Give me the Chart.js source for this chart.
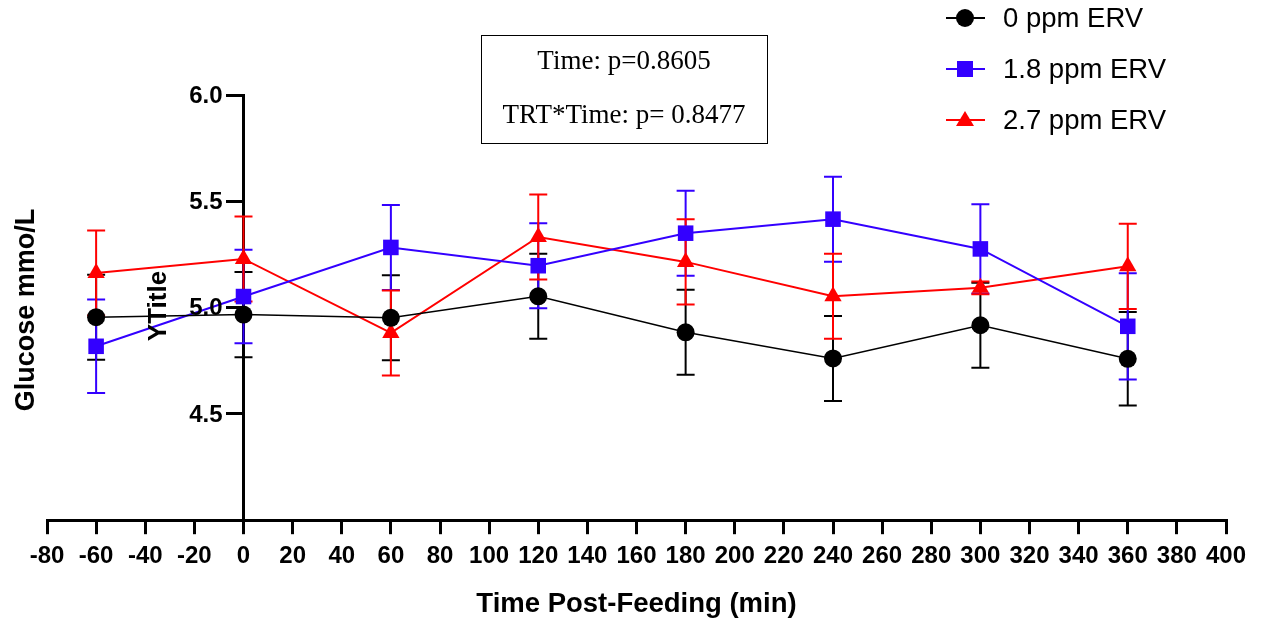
<!DOCTYPE html>
<html>
<head>
<meta charset="utf-8">
<script src="https://cdn.jsdelivr.net/npm/chart.js@4"></script>
<style>
  html, body { margin: 0; padding: 0; background: #fff; }
  #wrap { width: 1268px; height: 625px; position: relative; }
</style>
</head>
<body>
<div id="wrap"><canvas id="glucose"></canvas></div>
<script>
// sampling times (min relative to feeding)
const times = [-60, 0, 60, 120, 180, 240, 300, 360];

// glucose means and error (mmol/L)
const erv0 = [4.955, 4.967, 4.952, 5.053, 4.884, 4.761, 4.917, 4.759];
const erv0Err = [0.20, 0.20, 0.20, 0.20, 0.20, 0.20, 0.20, 0.22];
const erv18 = [4.818, 5.052, 5.283, 5.197, 5.350, 5.416, 5.276, 4.912];
const erv18Err = [0.22, 0.22, 0.20, 0.20, 0.20, 0.20, 0.21, 0.25];
const erv27 = [5.163, 5.229, 4.881, 5.332, 5.215, 5.053, 5.093, 5.194];
const erv27Err = [0.20, 0.20, 0.20, 0.20, 0.20, 0.20, 0.03, 0.20];

const seriesNames = ["0 ppm ERV", "1.8 ppm ERV", "2.7 ppm ERV"];
const yTicks = [4.5, 5.0, 5.5, 6.0];
const statLines = ["Time: p=0.8605", "TRT*Time: p= 0.8477"];

const BLACK = "#000000";
const BLUE = "#3300ff";
const RED = "#ff0000";

function pts(ys) {
  return times.map((t, i) => ({ x: t, y: ys[i] }));
}

const sans = "'Liberation Sans', Arial, sans-serif";
const serif = "'Liberation Serif', 'Times New Roman', serif";

function marker(ctx, style, x, y, color) {
  ctx.save();
  ctx.fillStyle = color;
  ctx.beginPath();
  if (style === "circle") {
    ctx.arc(x, y, 9, 0, Math.PI * 2);
  } else if (style === "rect") {
    ctx.rect(x - 8, y - 8, 16, 16);
  } else {
    ctx.moveTo(x, y - 9);
    ctx.lineTo(x + 9, y + 6);
    ctx.lineTo(x - 9, y + 6);
    ctx.closePath();
  }
  ctx.fill();
  ctx.restore();
}

// mean +/- error whiskers under each series
const errorBars = {
  id: "errorBars",
  beforeDatasetsDraw(chart) {
    const ctx = chart.ctx;
    const yScale = chart.scales.y;
    chart.data.datasets.forEach((ds, i) => {
      const meta = chart.getDatasetMeta(i);
      ctx.save();
      ctx.strokeStyle = ds.borderColor;
      ctx.lineWidth = 2;
      meta.data.forEach((pt, j) => {
        const top = yScale.getPixelForValue(ds.means[j] + ds.errors[j]);
        const bot = yScale.getPixelForValue(ds.means[j] - ds.errors[j]);
        ctx.beginPath();
        ctx.moveTo(pt.x, top);
        ctx.lineTo(pt.x, bot);
        ctx.moveTo(pt.x - 9, top);
        ctx.lineTo(pt.x + 9, top);
        ctx.moveTo(pt.x - 9, bot);
        ctx.lineTo(pt.x + 9, bot);
        ctx.stroke();
      });
      ctx.restore();
    });
  }
};

// y tick labels left of the crossing axis, legend, stats box, vertical titles
const decorations = {
  id: "decorations",
  afterDraw(chart) {
    const ctx = chart.ctx;
    const xScale = chart.scales.x;
    const yScale = chart.scales.y;
    ctx.save();

    const axisX = xScale.getPixelForValue(0);
    ctx.fillStyle = "#000";
    ctx.font = "bold 24px " + sans;
    ctx.textAlign = "right";
    ctx.textBaseline = "middle";
    yTicks.forEach(v => {
      ctx.fillText(v.toFixed(1), axisX - 21, yScale.getPixelForValue(v) + 1);
    });

    const styles = ["circle", "rect", "triangle"];
    chart.data.datasets.forEach((ds, i) => {
      const y = 18 + i * 51;
      ctx.strokeStyle = ds.borderColor;
      ctx.lineWidth = 2;
      ctx.beginPath();
      ctx.moveTo(946, y);
      ctx.lineTo(985, y);
      ctx.stroke();
      marker(ctx, styles[i], 965, y, ds.borderColor);
      ctx.fillStyle = "#000";
      ctx.font = "27.5px " + sans;
      ctx.textAlign = "left";
      ctx.textBaseline = "middle";
      ctx.fillText(ds.label, 1003, y + 1);
    });

    ctx.strokeStyle = "#000";
    ctx.lineWidth = 1;
    ctx.strokeRect(481.5, 35.5, 286, 108);
    ctx.fillStyle = "#000";
    ctx.font = "27px " + serif;
    ctx.textAlign = "center";
    ctx.textBaseline = "middle";
    ctx.fillText(statLines[0], 624, 62);
    ctx.fillText(statLines[1], 624, 116);

    ctx.font = "bold 27px " + sans;
    ctx.translate(27, 310);
    ctx.rotate(-Math.PI / 2);
    ctx.fillText("Glucose mmo/L", 0, 0);
    ctx.rotate(Math.PI / 2);
    ctx.translate(-27, -310);

    ctx.font = "bold 26px " + sans;
    ctx.translate(159, 306);
    ctx.rotate(-Math.PI / 2);
    ctx.fillText("YTitle", 0, 0);
    ctx.restore();
  }
};

new Chart(document.getElementById("glucose"), {
  type: "scatter",
  data: {
    datasets: [
      { label: seriesNames[0], data: pts(erv0), means: erv0, errors: erv0Err,
        borderColor: BLACK, backgroundColor: BLACK, pointStyle: "circle",
        pointRadius: 9, borderWidth: 1.5 },
      { label: seriesNames[1], data: pts(erv18), means: erv18, errors: erv18Err,
        borderColor: BLUE, backgroundColor: BLUE, pointStyle: "rect",
        pointRadius: 11, borderWidth: 2 },
      { label: seriesNames[2], data: pts(erv27), means: erv27, errors: erv27Err,
        borderColor: RED, backgroundColor: RED, pointStyle: "triangle",
        pointRadius: 10, borderWidth: 2 }
    ].map(d => Object.assign(d, { showLine: true, pointBorderWidth: 0, clip: false }))
  },
  options: {
    responsive: true,
    maintainAspectRatio: false,
    animation: false,
    layout: { padding: { left: 47, right: 42, top: 95, bottom: 4 } },
    plugins: { legend: { display: false }, tooltip: { enabled: false } },
    scales: {
      x: {
        type: "linear",
        min: -80,
        max: 400,
        ticks: { stepSize: 20, autoSkip: false, maxRotation: 0, padding: 8,
          color: "#000", font: { family: sans, size: 24, weight: "bold" } },
        grid: { drawOnChartArea: false, tickLength: 14, lineWidth: 3, color: "#000" },
        border: { color: "#000", width: 3 },
        title: { display: true, text: "Time Post-Feeding (min)", color: "#000",
          padding: { top: 9, bottom: 0 },
          font: { family: sans, size: 27.5, weight: "bold" } }
      },
      y: {
        type: "linear",
        position: { x: 0 },
        min: 4,
        max: 6,
        ticks: { stepSize: 0.5, display: false },
        grid: { drawOnChartArea: false, tickLength: 16, lineWidth: 3,
          color: c => (c.tick && c.tick.value === 4 ? "rgba(0,0,0,0)" : "#000") },
        border: { color: "#000", width: 3 }
      }
    }
  },
  plugins: [errorBars, decorations]
});
</script>
</body>
</html>
